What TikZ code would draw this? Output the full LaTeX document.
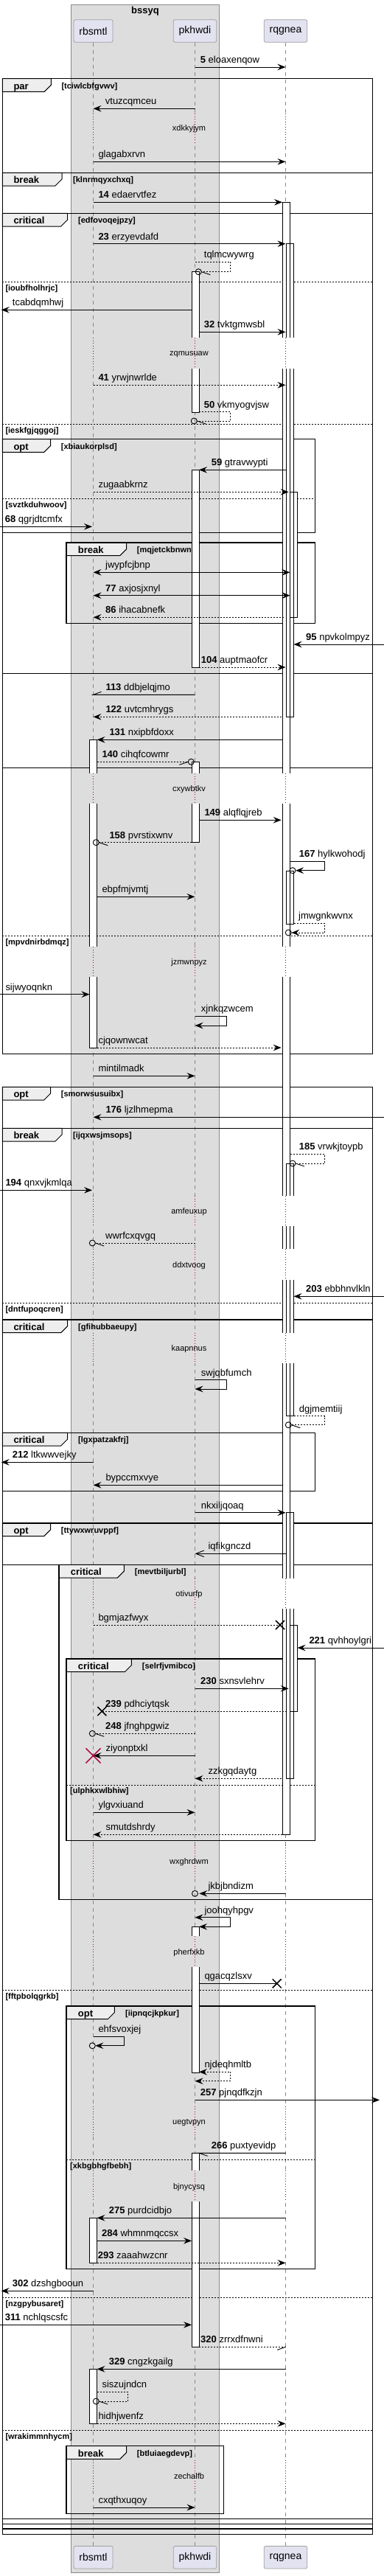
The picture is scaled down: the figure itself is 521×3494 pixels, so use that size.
\documentclass[tikz,border=0pt]{standalone}
\usepackage{fontspec}
\setmainfont{Liberation Sans}
\usetikzlibrary{arrows.meta}
\usetikzlibrary{positioning}
\definecolor{boxgray}{HTML}{DDDDDD}
\definecolor{partfill}{HTML}{E2E2F0}
\definecolor{partline}{HTML}{A0A0A0}
\definecolor{lifegray}{HTML}{888888}
\definecolor{tabfill}{HTML}{EEEEEE}
\definecolor{delayred}{HTML}{A80036}
\newcommand{\xR}{126.5}
\newcommand{\xP}{264.5}
\newcommand{\xQ}{387.5}
\tikzset{
  part/.style={draw=partline, fill=partfill, rounded corners=2.5pt, inner xsep=7.5pt, minimum height=30.6pt, font=\fontsize{14}{16}\selectfont, line width=0.8pt},
  lifeline/.style={draw=lifegray, dash pattern=on 5pt off 5pt, line width=0.8pt},
  grp/.style={draw, line width=1.5pt},
  tabshape/.style={draw, fill=tabfill, line width=1pt},
  tablbl/.style={anchor=base west, inner sep=0pt, font=\bfseries\fontsize{13}{15}\selectfont},
  guard/.style={anchor=base west, inner sep=0pt, font=\bfseries\fontsize{11}{13}\selectfont},
  elseline/.style={draw, line width=0.8pt, dash pattern=on 2pt off 2pt},
  msg/.style={draw, line width=0.9pt},
  dmsg/.style={msg, dash pattern=on 2pt off 2pt},
  lbl/.style={anchor=base west, inner sep=0pt, font=\fontsize{13}{15}\selectfont},
  delaylbl/.style={inner sep=0pt, font=\fontsize{11}{13}\selectfont},
  cross/.style={draw, line width=1.5pt},
  >={Stealth[length=11pt,width=8.5pt,inset=4pt]}
}
\begin{document}
\begin{tikzpicture}[x=1pt,y=-1pt]
\useasboundingbox (0,0) rectangle (521,3494);

% box and participants
\draw[draw=lifegray, fill=boxgray, line width=0.8pt] (96.3,6) rectangle (297.3,3489);
\node[font=\bfseries\fontsize{13}{15}\selectfont, anchor=base] (bssyq) at (197,18.5) {bssyq};
\node[part] (rbsmtl) at (\xR,42) {rbsmtl};
\node[part] (pkhwdi) at (\xP,42) {pkhwdi};
\node[part] (rqgnea) at (\xQ,42) {rqgnea};
\node[part] (rbsmtl-b) at (\xR,3468.7) {rbsmtl};
\node[part] (pkhwdi-b) at (\xP,3468.7) {pkhwdi};
\node[part] (rqgnea-b) at (\xQ,3468.7) {rqgnea};
\draw[lifeline] (rbsmtl) -- (rbsmtl-b);
\draw[lifeline] (pkhwdi) -- (pkhwdi-b);
\draw[lifeline] (rqgnea) -- (rqgnea-b);

% groups
\draw[tabshape] (3.3,106.7) -- ++(66,0) -- ++(0,8.7) -- ++(-9,9) -| (3.3,106.7) -- cycle;
\draw[grp] (3.3,106.7) rectangle (505.7,234.3);
\node[tablbl] (par1) at (18.3,121) {par};
\node[guard] (g-tciwlcbfgvwv) at (83.3,120) {[tciwlcbfgvwv]};

\draw[tabshape] (3.3,234.3) -- ++(80.7,0) -- ++(0,8.7) -- ++(-9,9) -| (3.3,234.3) -- cycle;
\draw[grp] (3.3,234.3) rectangle (505.7,289.3);
\node[tablbl] (break1) at (18.3,248.6) {break};
\node[guard] (g-klnrmqyxchxq) at (99,247.6) {[klnrmqyxchxq]};

\draw[tabshape] (3.3,289.3) -- ++(88.4,0) -- ++(0,8.7) -- ++(-9,9) -| (3.3,289.3) -- cycle;
\draw[grp] (3.3,289.3) rectangle (505.7,913.3);
\node[tablbl] (critical1) at (18.3,303.6) {critical};
\node[guard] (g-edfovoqejpzy) at (106,302.6) {[edfovoqejpzy]};
\draw[elseline] (3.3,382.3) -- (505.7,382.3);
\node[guard] (g-ioubfholhrjc) at (7.3,394) {[ioubfholhrjc]};
\draw[elseline] (3.3,575.3) -- (505.7,575.3);
\node[guard] (g-ieskfgjqggoj) at (7.3,587) {[ieskfgjqggoj]};

\draw[tabshape] (3.3,595.7) -- ++(65.4,0) -- ++(0,8.7) -- ++(-9,9) -| (3.3,595.7) -- cycle;
\draw[grp] (3.3,595.7) rectangle (427.7,722.7);
\node[tablbl] (opt1) at (18.3,610) {opt};
\node[guard] (g-xbiaukorplsd) at (82.7,609) {[xbiaukorplsd]};
\draw[elseline] (3.3,676.3) -- (427.7,676.3);
\node[guard] (g-svztkduhwoov) at (7.3,688) {[svztkduhwoov]};

\draw[tabshape] (90,736) -- ++(81.7,0) -- ++(0,8.7) -- ++(-9,9) -| (90,736) -- cycle;
\draw[grp] (90,736) rectangle (427.7,845.7);
\node[tablbl] (break2) at (105.7,750.3) {break};
\node[guard] (g-mqjetckbnwne) at (185.7,749.3) {[mqjetckbnwne]};

\draw[grp] (3.3,913.3) rectangle (505.7,1041.7);
\draw[grp] (3.3,1041.7) rectangle (505.7,1429.3);
\draw[elseline] (3.3,1269.3) -- (505.7,1269.3);
\node[guard] (g-mpvdnirbdmqz) at (7.3,1281) {[mpvdnirbdmqz]};

\draw[tabshape] (3.3,1474.3) -- ++(65.4,0) -- ++(0,8.7) -- ++(-9,9) -| (3.3,1474.3) -- cycle;
\draw[grp] (3.3,1474.3) rectangle (505.7,1530.3);
\node[tablbl] (opt2) at (18.3,1488.6) {opt};
\node[guard] (g-smorwsusuibx) at (82.7,1487.6) {[smorwsusuibx]};

\draw[tabshape] (3.3,1530.3) -- ++(80.7,0) -- ++(0,8.7) -- ++(-9,9) -| (3.3,1530.3) -- cycle;
\draw[grp] (3.3,1530.3) rectangle (505.7,1790);
\node[tablbl] (break3) at (18.3,1544.6) {break};
\node[guard] (g-ijqxwsjmsops) at (99,1543.6) {[ijqxwsjmsops]};
\draw[elseline] (3.3,1767.3) -- (505.7,1767.3);
\node[guard] (g-dntfupoqcren) at (7.3,1779) {[dntfupoqcren]};

\draw[tabshape] (3.3,1790) -- ++(88.4,0) -- ++(0,8.7) -- ++(-9,9) -| (3.3,1790) -- cycle;
\draw[grp] (3.3,1790) rectangle (505.7,2066);
\node[tablbl] (critical2) at (18.3,1804.3) {critical};
\node[guard] (g-gfihubbaeupy) at (106,1803.3) {[gfihubbaeupy]};

\draw[tabshape] (3.3,1943.3) -- ++(88.4,0) -- ++(0,8.7) -- ++(-9,9) -| (3.3,1943.3) -- cycle;
\draw[grp] (3.3,1943.3) rectangle (427.7,2022.7);
\node[tablbl] (critical3) at (18.3,1957.6) {critical};
\node[guard] (g-lgxpatzakfrj) at (106,1956.6) {[lgxpatzakfrj]};

\draw[tabshape] (3.3,2066) -- ++(65.4,0) -- ++(0,8.7) -- ++(-9,9) -| (3.3,2066) -- cycle;
\draw[grp] (3.3,2066) rectangle (505.7,3437.7);
\node[tablbl] (opt3) at (18.3,2080.3) {opt};
\node[guard] (g-ttywxwruvppf) at (82.7,2079.3) {[ttywxwruvppf]};
\draw[grp] (3.3,2122.3) -- (505.7,2122.3);
\draw[grp] (3.3,3416.7) -- (505.7,3416.7);
\draw[grp] (3.3,3423.3) -- (505.7,3423.3);
\draw[grp] (3.3,3430) -- (505.7,3430);
\draw[elseline] (3.3,2699.3) -- (505.7,2699.3);
\node[guard] (g-fftpbolqgrkb) at (7.3,2711) {[fftpbolqgrkb]};
\draw[elseline] (3.3,3116.3) -- (505.7,3116.3);
\node[guard] (g-nzgpybusaret) at (7.3,3128) {[nzgpybusaret]};
\draw[elseline] (3.3,3296.7) -- (505.7,3296.7);
\node[guard] (g-wrakimmnhycm) at (7.3,3308.4) {[wrakimmnhycm]};

\draw[tabshape] (80,2122.3) -- ++(88.3,0) -- ++(0,8.7) -- ++(-9,9) -| (80,2122.3) -- cycle;
\draw[grp] (80,2122.3) rectangle (505.7,2576.7);
\node[tablbl] (critical4) at (95.7,2136.6) {critical};
\node[guard] (g-mevtbiljurbl) at (182.7,2135.6) {[mevtbiljurbl]};

\draw[tabshape] (90,2250) -- ++(88.3,0) -- ++(0,8.7) -- ++(-9,9) -| (90,2250) -- cycle;
\draw[grp] (90,2250) rectangle (427.7,2496.7);
\node[tablbl] (critical5) at (105.7,2264.3) {critical};
\node[guard] (g-selrfjvmibco) at (192.7,2263.3) {[selrfjvmibco]};
\draw[elseline] (90,2421) -- (427.7,2421);
\node[guard] (g-ulphkxwlbhiw) at (95,2432.7) {[ulphkxwlbhiw]};

\draw[tabshape] (90,2721) -- ++(65.3,0) -- ++(0,8.7) -- ++(-9,9) -| (90,2721) -- cycle;
\draw[grp] (90,2721) rectangle (427.7,3077.3);
\node[tablbl] (opt4) at (105.7,2735.3) {opt};
\node[guard] (g-iipnqcjkpkur) at (170,2734.3) {[iipnqcjkpkur]};
\draw[elseline] (90,2929.3) -- (427.7,2929.3);
\node[guard] (g-xkbgbhgfbebh) at (95,2941) {[xkbgbhgfbebh]};

\draw[tabshape] (90,3317.7) -- ++(81.7,0) -- ++(0,8.7) -- ++(-9,9) -| (90,3317.7) -- cycle;
\draw[grp] (90,3317.7) rectangle (303.3,3409.3);
\node[tablbl] (break4) at (105.7,3332) {break};
\node[guard] (g-btluiaegdevp) at (185.7,3331) {[btluiaegdevp]};

% activations
\foreach \xl/\ya/\yb in {121.5/1003.3/1421, 121.5/3008.3/3069.3, 121.5/3213.3/3287.3,
  260/368.7/559, 260/637.3/905, 260/1033.3/1142.7, 260/2613.3/2811, 260/2920.3/3183.3,
  383/274.3/2488.3, 388.5/330.7/972.3, 388.5/1181/1253.3, 388.5/1578/1920.7,
  388.5/2051.7/2412.3, 393.5/667.3/837.3, 393.5/2204/2321}
  \fill[white] (\xl,\ya) rectangle ({\xl+10},\yb);
\foreach \xl/\ya/\yb in {121.5/1003.3/1421, 121.5/3008.3/3069.3, 121.5/3213.3/3287.3,
  260/368.7/559, 260/637.3/905, 260/1033.3/1142.7, 260/2613.3/2811, 260/2920.3/3183.3,
  383/274.3/2488.3, 388.5/330.7/972.3, 388.5/1181/1253.3, 388.5/1578/1920.7,
  388.5/2051.7/2412.3, 393.5/667.3/837.3, 393.5/2204/2321}
  \draw[line width=0.8pt] (\xl,\ya) rectangle ({\xl+10},\yb);

% delays
\foreach \ya/\yb/\txt in {154/193/xdkkyjym, 458/500/zqmusuaw, 1049/1090/cxywbtkv,
  1284/1325/jzmwnpyz, 1622.3/1662.7/amfeuxup, 1694.3/1736/ddxtvoog, 1807.7/1849/kaapnnus,
  2141/2181.7/otivurfp, 2502.7/2545/wxghrdwm, 2626/2667.7/pherfxkb, 2856.7/2898/uegtvpyn,
  2944.3/2986/bjnycysq, 3336.7/3378.3/zechalfb}{
  \fill[boxgray] (119,\ya) rectangle (134,\yb);
  \fill[boxgray] (257,\ya) rectangle (273,\yb);
  \fill[white] (380,\ya) rectangle (406,\yb);
  \foreach \x in {\xR,\xP,\xQ}
    \draw[delayred, line width=0.8pt, dash pattern=on 1pt off 2.5pt] (\x,\ya) -- (\x,\yb);
  \node[delaylbl] (delay-\txt) at (256.5,{(\ya+\yb)/2+1.5}) {\txt};
}

% messages
\draw[msg,->] (\xP,91) -- (\xQ,91);
\node[lbl] (eloaxenqow) at (271.7,85.5) {\textbf{5} eloaxenqow};
\draw[msg,->] (\xP,147.3) -- (\xR,147.3);
\node[lbl] (vtuzcqmceu) at (142.7,141.8) {vtuzcqmceu};
\draw[msg,->] (\xR,219.3) -- (\xQ,219.3);
\node[lbl] (glagabxrvn) at (133.3,213.8) {glagabxrvn};
\draw[msg,->] (\xR,274.3) -- (383,274.3);
\node[lbl] (edaervtfez) at (133.3,268.8) {\textbf{14} edaervtfez};
\draw[msg,->] (\xR,330.7) -- (\xQ,330.7);
\node[lbl] (erzyevdafd) at (133.3,325.2) {\textbf{23} erzyevdafd};
\draw[dmsg] (\xP,355.3) -- (312.7,355.3) -- (312.7,368.7) -- (273.3,368.7);
\draw[msg] (269.3,368.7) circle (4) (273.3,368.7) -- ++(12,4);
\node[lbl] (tqlmcwywrg) at (276.7,349.8) {tqlmcwywrg};
\draw[msg,->] (260,420.3) -- (1.7,420.3);
\node[lbl] (tcabdqmhwj) at (16.7,414.8) {tcabdqmhwj};
\draw[msg,->] (270,450.3) -- (\xQ,450.3);
\node[lbl] (tvktgmwsbl) at (276.7,444.8) {\textbf{32} tvktgmwsbl};
\draw[dmsg,->] (\xR,522.3) -- (\xQ,522.3);
\node[lbl] (yrwjnwrlde) at (133.3,516.8) {\textbf{41} yrwjnwrlde};
\draw[dmsg] (270,558.7) -- (312.7,558.7) -- (312.7,571) -- (267.3,571);
\draw[msg] (263.3,571) circle (4) (267.3,571) -- ++(12,4);
\node[lbl] (vkmyogvjsw) at (276.7,553.2) {\textbf{50} vkmyogvjsw};
\draw[msg,->] (388.5,637.3) -- (270,637.3);
\node[lbl] (gtravwypti) at (286.7,631.8) {\textbf{59} gtravwypti};
\draw[dmsg,->] (\xR,667.3) -- (391.7,667.3);
\node[lbl] (zugaabkrnz) at (133.3,661.8) {zugaabkrnz};
\draw[msg,->] (0,714.3) -- (125,714.3);
\node[lbl] (qgrjdtcmfx) at (6.7,708.8) {\textbf{68} qgrjdtcmfx};
\draw[msg,<->] (\xR,776.3) -- (393.5,776.3);
\node[lbl] (jwypfcjbnp) at (143,770.8) {jwypfcjbnp};
\draw[msg,<->] (\xR,807.7) -- (393.5,807.7);
\node[lbl] (axjosjxnyl) at (143,802.2) {\textbf{77} axjosjxnyl};
\draw[dmsg,->] (385,837.3) -- (\xR,837.3);
\node[lbl] (ihacabnefk) at (143,831.8) {\textbf{86} ihacabnefk};
\draw[msg,->] (521,874) -- (398.5,874);
\node[lbl] (npvkolmpyz) at (415,868.5) {\textbf{95} npvkolmpyz};
\draw[dmsg,->] (270,905) -- (\xQ,905);
\node[lbl] (auptmaofcr) at (272.7,899.5) {\textbf{104} auptmaofcr};
\draw[msg] (\xP,942.3) -- (\xR,942.3) -- ++(11,-4);
\node[lbl] (ddbjelqjmo) at (143.3,936.8) {\textbf{113} ddbjelqjmo};
\draw[dmsg,->] (381.7,972.3) -- (\xR,972.3);
\node[lbl] (uvtcmhrygs) at (143.3,966.8) {\textbf{122} uvtcmhrygs};
\draw[msg,->] (383,1003.3) -- (131.5,1003.3);
\node[lbl] (nxipbfdoxx) at (148.3,997.8) {\textbf{131} nxipbfdoxx};
\draw[dmsg] (131.5,1033.3) -- (255.3,1033.3);
\draw[msg] (259.3,1033.3) circle (4) (255.3,1033.3) -- ++(-12,4);
\node[lbl] (cihqfcowmr) at (138.3,1027.8) {\textbf{140} cihqfcowmr};
\draw[msg,->] (270,1112.3) -- (381.7,1112.3);
\node[lbl] (alqflqjreb) at (277.3,1106.8) {\textbf{149} alqflqjreb};
\draw[dmsg] (260,1142.7) -- (134.3,1142.7);
\draw[msg] (130.3,1142.7) circle (4) (134.3,1142.7) -- ++(12,4);
\node[lbl] (pvrstixwnv) at (148.3,1137.2) {\textbf{158} pvrstixwnv};
\draw[msg,->] (393.5,1168.3) -- (440.3,1168.3) -- (440.3,1180.7) -- (401,1180.7);
\draw[msg] (397,1180.7) circle (4);
\node[lbl] (hylkwohodj) at (405.7,1162.8) {\textbf{167} hylkwohodj};
\draw[msg,->] (131.5,1216.3) -- (\xP,1216.3);
\node[lbl] (ebpfmjvmtj) at (138.3,1210.8) {ebpfmjvmtj};
\draw[dmsg,->] (398.5,1252.3) -- (440.3,1252.3) -- (440.3,1265) -- (395.3,1265);
\draw[msg] (391.3,1265) circle (4);
\node[lbl] (jmwgnkwvnx) at (405,1246.8) {jmwgnkwvnx};
\draw[msg,->] (0,1348.7) -- (121.5,1348.7);
\node[lbl] (sijwyoqnkn) at (7.3,1343.2) {sijwyoqnkn};
\draw[msg,->] (\xP,1378.3) -- (307.3,1378.3) -- (307.3,1391) -- (\xP,1391);
\node[lbl] (xjnkqzwcem) at (272.7,1372.8) {xjnkqzwcem};
\draw[dmsg,->] (131.5,1421) -- (381.7,1421);
\node[lbl] (cjqownwcat) at (133.3,1415.5) {cjqownwcat};
\draw[msg,->] (\xR,1459.3) -- (\xP,1459.3);
\node[lbl] (mintilmadk) at (133.3,1453.8) {mintilmadk};
\draw[msg,->] (521,1515.3) -- (\xR,1515.3);
\node[lbl] (ljzlhmepma) at (143.3,1509.8) {\textbf{176} ljzlhmepma};
\draw[dmsg] (393.5,1565.3) -- (440.3,1565.3) -- (440.3,1578) -- (401,1578);
\draw[msg] (397,1578) circle (4) (401,1578) -- ++(12,4);
\node[lbl] (vrwkjtoypb) at (405.7,1559.8) {\textbf{185} vrwkjtoypb};
\draw[msg,->] (0,1614.3) -- (125,1614.3);
\node[lbl] (qnxvjkmlqa) at (7.3,1608.8) {\textbf{194} qnxvjkmlqa};
\draw[dmsg] (\xP,1686) -- (129.3,1686);
\draw[msg] (125.3,1686) circle (4) (129.3,1686) -- ++(12,4);
\node[lbl] (wwrfcxqvgq) at (143,1680.5) {wwrfcxqvgq};
\draw[msg,->] (521,1758.3) -- (398.5,1758.3);
\node[lbl] (ebbhnvlkln) at (415,1752.8) {\textbf{203} ebbhnvlkln};
\draw[msg,->] (\xP,1871.7) -- (307.3,1871.7) -- (307.3,1884) -- (\xP,1884);
\node[lbl] (swjqbfumch) at (272.7,1866.2) {swjqbfumch};
\draw[dmsg] (398.5,1920.7) -- (440.3,1920.7) -- (440.3,1932.7) -- (395.3,1932.7);
\draw[msg] (391.3,1932.7) circle (4) (395.3,1932.7) -- ++(12,4);
\node[lbl] (dgjmemtiij) at (405.7,1915.2) {dgjmemtiij};
\draw[msg,->] (\xR,1983.3) -- (1.7,1983.3);
\node[lbl] (ltkwwvejky) at (16.7,1977.8) {\textbf{212} ltkwwvejky};
\draw[msg,->] (383,2014.3) -- (\xR,2014.3);
\node[lbl] (bypccmxvye) at (143.3,2008.8) {bypccmxvye};
\draw[msg,->] (\xP,2051.7) -- (\xQ,2051.7);
\node[lbl] (nkxiljqoaq) at (272.7,2046.2) {nkxiljqoaq};
\draw[msg,-{Straight Barb[length=11pt,width=8.5pt]}] (388.5,2107.3) -- (\xP,2107.3);
\node[lbl] (iqfikgnczd) at (282.3,2101.8) {iqfikgnczd};
\draw[dmsg] (\xR,2204) -- (380,2204);
\draw[cross] (374,2198) -- (386,2210) (374,2210) -- (386,2198);
\node[lbl] (bgmjazfwyx) at (133.3,2198.5) {bgmjazfwyx};
\draw[msg,->] (521,2235) -- (403.5,2235);
\node[lbl] (qvhhoylgri) at (419.3,2229.5) {\textbf{221} qvhhoylgri};
\draw[msg,->] (\xP,2290.3) -- (391.7,2290.3);
\node[lbl] (sxnsvlehrv) at (272,2284.8) {\textbf{230} sxnsvlehrv};
\draw[dmsg] (388.5,2321) -- (138.3,2321);
\draw[cross] (132.3,2315) -- (144.3,2327) (132.3,2327) -- (144.3,2315);
\node[lbl] (pdhciytqsk) at (143,2315.5) {\textbf{239} pdhciytqsk};
\draw[dmsg] (\xP,2351.3) -- (129.3,2351.3);
\draw[msg] (125.3,2351.3) circle (4) (129.3,2351.3) -- ++(12,4);
\node[lbl] (jfnghpgwiz) at (143,2345.8) {\textbf{248} jfnghpgwiz};
\draw[msg,->] (\xP,2381.3) -- (\xR,2381.3);
\draw[delayred, line width=1.5pt] (116.5,2371.3) -- (136.5,2391.3) (116.5,2391.3) -- (136.5,2371.3);
\node[lbl] (ziyonptxkl) at (143.3,2375.8) {ziyonptxkl};
\draw[dmsg,->] (381.7,2412.3) -- (\xP,2412.3);
\node[lbl] (zzkgqdaytg) at (282.3,2406.8) {zzkgqdaytg};
\draw[msg,->] (\xR,2458.3) -- (\xP,2458.3);
\node[lbl] (ylgvxiuand) at (133.3,2452.8) {ylgvxiuand};
\draw[dmsg,->] (383,2488.3) -- (\xR,2488.3);
\node[lbl] (smutdshrdy) at (143.3,2482.8) {smutdshrdy};
\draw[msg,->] (\xQ,2568.3) -- (270.3,2568.3);
\draw[msg] (\xP,2568.3) circle (4);
\node[lbl] (jkbjbndizm) at (282.3,2562.8) {jkbjbndizm};
\draw[msg,<->] (\xP,2600.7) -- (312.7,2600.7) -- (312.7,2613.3) -- (270,2613.3);
\node[lbl] (joohqyhpgv) at (277.3,2595.2) {joohqyhpgv};
\draw[msg] (270,2690.3) -- (375.7,2690.3);
\draw[cross] (369.7,2684.3) -- (381.7,2696.3) (369.7,2696.3) -- (381.7,2684.3);
\node[lbl] (qgacqzlsxv) at (277.3,2684.8) {qgacqzlsxv};
\draw[msg,->] (\xR,2762.3) -- (168.3,2762.3) -- (168.3,2774.7) -- (129.3,2774.7);
\draw[msg] (125.3,2774.7) circle (4);
\node[lbl] (ehfsvoxjej) at (133.3,2756.8) {ehfsvoxjej};
\draw[dmsg,<->] (270,2810.3) -- (312.7,2810.3) -- (312.7,2822.7) -- (\xP,2822.7);
\node[lbl] (njdeqhmltb) at (277.3,2804.8) {njdeqhmltb};
\draw[msg,->] (\xP,2848.3) -- (515,2848.3);
\node[lbl] (pjnqdfkzjn) at (271.7,2842.8) {\textbf{257} pjnqdfkzjn};
\draw[msg] (\xQ,2920.3) -- (270,2920.3) -- ++(11.7,4);
\node[lbl] (puxtyevidp) at (286.7,2914.8) {\textbf{266} puxtyevidp};
\draw[msg,->] (\xQ,3008.3) -- (131.5,3008.3);
\node[lbl] (purdcidbjo) at (147.7,3002.8) {\textbf{275} purdcidbjo};
\draw[msg,->] (131.5,3039.3) -- (260,3039.3);
\node[lbl] (whmnmqccsx) at (138,3033.8) {\textbf{284} whmnmqccsx};
\draw[dmsg,->] (131.5,3069.3) -- (\xQ,3069.3);
\node[lbl] (zaaahwzcnr) at (132.7,3063.8) {\textbf{293} zaaahwzcnr};
\draw[msg,->] (\xR,3107.3) -- (1.7,3107.3);
\node[lbl] (dzshgbooun) at (16.7,3101.8) {\textbf{302} dzshgbooun};
\draw[msg,->] (0,3153.3) -- (260,3153.3);
\node[lbl] (nchlqscsfc) at (6.7,3147.8) {\textbf{311} nchlqscsfc};
\draw[dmsg] (270,3183.3) -- (\xQ,3183.3);
\draw[msg] (\xQ,3183.3) -- ++(-11.3,4);
\node[lbl] (zrrxdfnwni) at (272,3177.8) {\textbf{320} zrrxdfnwni};
\draw[msg,->] (\xQ,3213.3) -- (131.5,3213.3);
\node[lbl] (cngzkgailg) at (147.7,3207.8) {\textbf{329} cngzkgailg};
\draw[dmsg] (131.5,3244.3) -- (173.3,3244.3) -- (173.3,3257) -- (134.3,3257);
\draw[msg] (130.3,3257) circle (4) (134.3,3257) -- ++(12,4);
\node[lbl] (siszujndcn) at (138.3,3238.8) {siszujndcn};
\draw[dmsg,->] (131.5,3287.3) -- (\xQ,3287.3);
\node[lbl] (hidhjwenfz) at (133.3,3281.8) {hidhjwenfz};
\draw[msg,->] (\xR,3401) -- (\xP,3401);
\node[lbl] (cxqthxuqoy) at (133.3,3395.5) {cxqthxuqoy};
\end{tikzpicture}
\end{document}
